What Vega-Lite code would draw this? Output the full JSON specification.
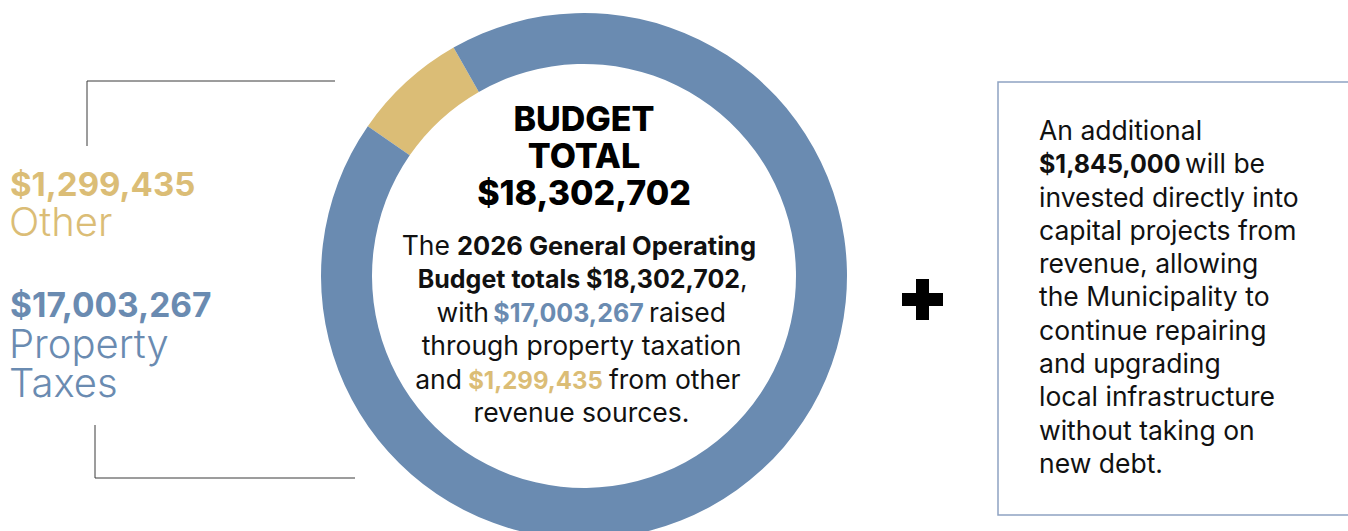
{
  "$schema": "https://vega.github.io/schema/vega-lite/v6.json",
  "width": 1348,
  "height": 531,
  "autosize": {"type": "none"},
  "padding": 0,
  "background": "white",
  "config": {
    "view": {"stroke": null},
    "axis": {"disable": true},
    "legend": {"disable": true},
    "text": {"font": "Inter", "baseline": "alphabetic"}
  },
  "data": {"values": [{"k": "annotation"}]},
  "layer": [
    {
      "data": {"values": [
        {"category": "Other", "value": 1299435},
        {"category": "Property Taxes", "value": 17003267}
      ]},
      "mark": {"type": "arc", "radius": 263, "radius2": 212},
      "encoding": {
        "theta": {"field": "value", "type": "quantitative", "stack": true, "scale": {"range": [-0.965, 5.3182]}},
        "order": {"field": "category", "sort": "ascending"},
        "color": {"field": "category", "type": "nominal", "scale": {"domain": ["Other", "Property Taxes"], "range": ["#dbbd76", "#6a8bb1"]}},
        "x": {"datum": 584, "type": "quantitative", "scale": {"domain": [0, 1348], "nice": false, "zero": false}},
        "y": {"datum": 276, "type": "quantitative", "scale": {"domain": [0, 531], "reverse": true, "nice": false, "zero": false}}
      }
    },
    {
      "mark": {"type": "rule", "color": "#3a3a3a", "strokeWidth": 1},
      "encoding": {"x": {"datum": 87}, "y": {"datum": 81}, "y2": {"datum": 146}}
    },
    {
      "mark": {"type": "rule", "color": "#3a3a3a", "strokeWidth": 1},
      "encoding": {"x": {"datum": 87}, "x2": {"datum": 335}, "y": {"datum": 81}}
    },
    {
      "mark": {"type": "rule", "color": "#3a3a3a", "strokeWidth": 1},
      "encoding": {"x": {"datum": 95}, "y": {"datum": 425}, "y2": {"datum": 478}}
    },
    {
      "mark": {"type": "rule", "color": "#3a3a3a", "strokeWidth": 1},
      "encoding": {"x": {"datum": 95}, "x2": {"datum": 355}, "y": {"datum": 478}}
    },
    {
      "mark": {"type": "rect", "fill": null, "fillOpacity": 0, "stroke": "#8fa3c2", "strokeWidth": 1.5},
      "encoding": {"x": {"datum": 998}, "x2": {"datum": 1352}, "y": {"datum": 82}, "y2": {"datum": 515}}
    },
    {
      "mark": {"type": "rule", "color": "#000000", "strokeWidth": 13, "strokeCap": "butt"},
      "encoding": {"x": {"datum": 902}, "x2": {"datum": 943}, "y": {"datum": 299.5}}
    },
    {
      "mark": {"type": "rule", "color": "#000000", "strokeWidth": 13, "strokeCap": "butt"},
      "encoding": {"x": {"datum": 922.5}, "y": {"datum": 279}, "y2": {"datum": 320}}
    },
    {
      "data": {"values": [{"t": "$1,299,435"}]},
      "mark": {"type": "text", "align": "left", "fontSize": 33, "fontWeight": 700, "color": "#dbbd76"},
      "encoding": {"text": {"field": "t"}, "x": {"datum": 10}, "y": {"datum": 196}}
    },
    {
      "data": {"values": [{"t": "Other"}]},
      "mark": {"type": "text", "align": "left", "fontSize": 40, "fontWeight": 300, "color": "#dbbd76"},
      "encoding": {"text": {"field": "t"}, "x": {"datum": 9}, "y": {"datum": 236}}
    },
    {
      "data": {"values": [{"t": "$17,003,267"}]},
      "mark": {"type": "text", "align": "left", "fontSize": 33.5, "fontWeight": 700, "color": "#6a8bb1"},
      "encoding": {"text": {"field": "t"}, "x": {"datum": 10}, "y": {"datum": 317}}
    },
    {
      "data": {"values": [{"t": ["Property", "Taxes"]}]},
      "mark": {"type": "text", "align": "left", "fontSize": 40, "fontWeight": 300, "color": "#6a8bb1", "lineHeight": 39},
      "encoding": {"text": {"field": "t"}, "x": {"datum": 9}, "y": {"datum": 358}}
    },
    {
      "data": {"values": [{"t": ["BUDGET", "TOTAL", "$18,302,702"]}]},
      "mark": {"type": "text", "align": "center", "fontSize": 34, "fontWeight": 800, "color": "#000000", "lineHeight": 37},
      "encoding": {"text": {"field": "t"}, "x": {"datum": 584}, "y": {"datum": 131}}
    },
    {
      "data": {"values": [{"t": "The"}]},
      "mark": {"type": "text", "align": "right", "fontSize": 26.5, "fontWeight": 400, "color": "#111111"},
      "encoding": {"text": {"field": "t"}, "x": {"datum": 450}, "y": {"datum": 255}}
    },
    {
      "data": {"values": [{"t": "2026 General Operating"}]},
      "mark": {"type": "text", "align": "left", "fontSize": 25.5, "fontWeight": 700, "color": "#111111"},
      "encoding": {"text": {"field": "t"}, "x": {"datum": 457}, "y": {"datum": 255}}
    },
    {
      "data": {"values": [{"t": "Budget totals $18,302,702"}]},
      "mark": {"type": "text", "align": "right", "fontSize": 25, "fontWeight": 700, "color": "#111111"},
      "encoding": {"text": {"field": "t"}, "x": {"datum": 740}, "y": {"datum": 288}}
    },
    {
      "data": {"values": [{"t": ","}]},
      "mark": {"type": "text", "align": "left", "fontSize": 26.5, "fontWeight": 400, "color": "#111111"},
      "encoding": {"text": {"field": "t"}, "x": {"datum": 740}, "y": {"datum": 288}}
    },
    {
      "data": {"values": [{"t": "with"}]},
      "mark": {"type": "text", "align": "right", "fontSize": 26.5, "fontWeight": 400, "color": "#111111"},
      "encoding": {"text": {"field": "t"}, "x": {"datum": 489}, "y": {"datum": 322}}
    },
    {
      "data": {"values": [{"t": "$17,003,267"}]},
      "mark": {"type": "text", "align": "center", "fontSize": 25, "fontWeight": 700, "color": "#6a8bb1"},
      "encoding": {"text": {"field": "t"}, "x": {"datum": 568.5}, "y": {"datum": 322}}
    },
    {
      "data": {"values": [{"t": "raised"}]},
      "mark": {"type": "text", "align": "left", "fontSize": 26.5, "fontWeight": 400, "color": "#111111"},
      "encoding": {"text": {"field": "t"}, "x": {"datum": 649}, "y": {"datum": 322}}
    },
    {
      "data": {"values": [{"t": "through property taxation"}]},
      "mark": {"type": "text", "align": "center", "fontSize": 26.5, "fontWeight": 400, "color": "#111111"},
      "encoding": {"text": {"field": "t"}, "x": {"datum": 581.5}, "y": {"datum": 355}}
    },
    {
      "data": {"values": [{"t": "and"}]},
      "mark": {"type": "text", "align": "right", "fontSize": 26.5, "fontWeight": 400, "color": "#111111"},
      "encoding": {"text": {"field": "t"}, "x": {"datum": 462}, "y": {"datum": 388.5}}
    },
    {
      "data": {"values": [{"t": "$1,299,435"}]},
      "mark": {"type": "text", "align": "center", "fontSize": 24, "fontWeight": 700, "color": "#dbbd76"},
      "encoding": {"text": {"field": "t"}, "x": {"datum": 535.5}, "y": {"datum": 388.5}}
    },
    {
      "data": {"values": [{"t": "from other"}]},
      "mark": {"type": "text", "align": "left", "fontSize": 26.5, "fontWeight": 400, "color": "#111111"},
      "encoding": {"text": {"field": "t"}, "x": {"datum": 609}, "y": {"datum": 388.5}}
    },
    {
      "data": {"values": [{"t": "revenue sources."}]},
      "mark": {"type": "text", "align": "center", "fontSize": 26.5, "fontWeight": 400, "color": "#111111"},
      "encoding": {"text": {"field": "t"}, "x": {"datum": 581.5}, "y": {"datum": 422}}
    },
    {
      "data": {"values": [{"t": "An additional"}]},
      "mark": {"type": "text", "align": "left", "fontSize": 26.5, "fontWeight": 400, "color": "#111111"},
      "encoding": {"text": {"field": "t"}, "x": {"datum": 1039}, "y": {"datum": 140}}
    },
    {
      "data": {"values": [{"t": "$1,845,000"}]},
      "mark": {"type": "text", "align": "left", "fontSize": 25, "fontWeight": 700, "color": "#111111"},
      "encoding": {"text": {"field": "t"}, "x": {"datum": 1039}, "y": {"datum": 173.3}}
    },
    {
      "data": {"values": [{"t": "will be"}]},
      "mark": {"type": "text", "align": "left", "fontSize": 26.5, "fontWeight": 400, "color": "#111111"},
      "encoding": {"text": {"field": "t"}, "x": {"datum": 1185}, "y": {"datum": 173.3}}
    },
    {
      "data": {"values": [{"t": ["invested directly into", "capital projects from", "revenue, allowing", "the Municipality to", "continue repairing", "and upgrading", "local infrastructure", "without taking on", "new debt."]}]},
      "mark": {"type": "text", "align": "left", "fontSize": 26.5, "fontWeight": 400, "color": "#111111", "lineHeight": 33.3},
      "encoding": {"text": {"field": "t"}, "x": {"datum": 1039}, "y": {"datum": 206.6}}
    }
  ]
}
